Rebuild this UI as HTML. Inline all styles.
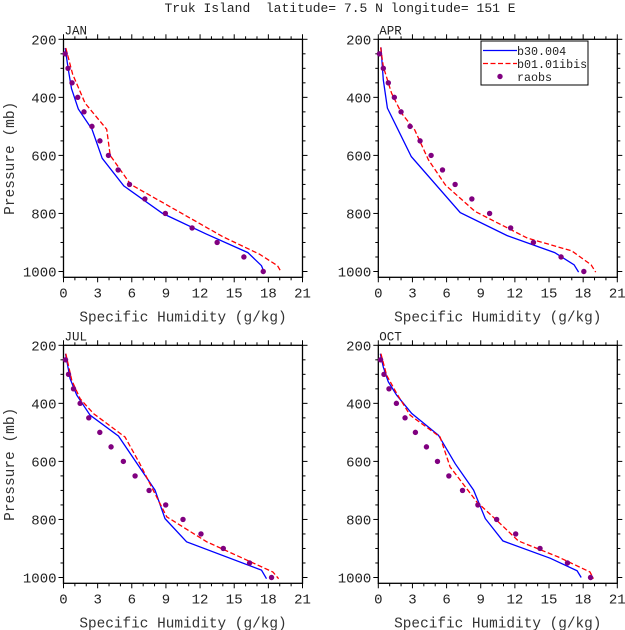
<!DOCTYPE html>
<html><head><meta charset="utf-8">
<style>
html,body{margin:0;padding:0;background:#fff;}
svg{display:block;font-family:"Liberation Mono",monospace;}
</style></head>
<body>
<svg id="s" width="625" height="630" viewBox="0 0 625 630" xmlns="http://www.w3.org/2000/svg">
<rect width="625" height="630" fill="#fff"/>
<text x="340" y="12" font-size="13" text-anchor="middle" fill="#222" style="white-space:pre">Truk Island  latitude= 7.5 N longitude= 151 E</text>
</svg>
<script>
const S=document.getElementById('s');
const NS='http://www.w3.org/2000/svg';
function el(t,a,txt){const e=document.createElementNS(NS,t);for(const k in a)e.setAttribute(k,a[k]);if(txt!==undefined)e.textContent=txt;S.appendChild(e);return e;}
const W=239,H=238;
const panels=[
{L:63.5,T:39.3,name:'JAN',
 b:[[0.15,230],[0.4,300],[0.7,370],[1.3,440],[2.5,510],[3.4,610],[5.3,705],[8.7,800],[12.5,870],[16.2,935],[17.4,980],[17.6,1000]],
 r:[[0.2,230],[0.8,320],[1.9,420],[3.8,510],[4.1,600],[5.9,700],[9.5,780],[14,880],[17.2,940],[18.8,980],[19.1,1000]],
 o:[0.15,0.4,0.75,1.25,1.8,2.5,3.2,3.95,4.8,5.8,7.15,8.95,11.3,13.5,15.85,17.55]},
{L:378.3,T:39.3,name:'APR',legend:true,
 b:[[0.24,228],[0.44,340],[0.8,437],[2.9,604],[7.2,797],[11.3,876],[15.5,935],[17.2,977],[17.6,1002]],
 r:[[0.2,228],[0.44,294],[1.17,386],[2.05,455],[3.2,512],[4.4,615],[5.9,702],[8.5,793],[13.1,885],[17.0,929],[18.7,977],[19.1,1002]],
 o:[0.1,0.44,0.88,1.41,2.0,2.79,3.67,4.64,5.64,6.75,8.22,9.78,11.63,13.63,16.06,18.06]},
{L:63.5,T:345.3,name:'JUL',
 b:[[0.18,229],[0.58,315],[1.17,372],[2.34,441],[4.83,513],[8.04,699],[8.92,797],[10.82,877],[17.4,975],[17.84,1004]],
 r:[[0.2,229],[0.73,321],[1.46,384],[2.63,435],[5.4,516],[6.7,608],[9.07,791],[12.58,877],[18.4,981],[18.9,1004]],
 o:[0.18,0.44,0.88,1.46,2.22,3.19,4.18,5.26,6.29,7.52,8.98,10.5,12.08,14.04,16.35,18.28]},
{L:378.3,T:345.3,name:'OCT',
 b:[[0.18,229],[0.44,275],[0.88,326],[1.62,372],[2.94,435],[5.29,510],[6.76,608],[8.37,699],[9.4,797],[10.95,874],[15.12,934],[17.47,977],[17.83,1000]],
 r:[[0.23,229],[0.73,303],[1.62,366],[2.79,441],[5.43,516],[6.31,619],[8.66,740],[10.4,803],[12.3,874],[15.8,929],[18.6,981],[18.9,1004]],
 o:[0.2,0.5,0.94,1.59,2.35,3.26,4.23,5.2,6.2,7.4,8.75,10.4,12.07,14.21,16.62,18.65]}
];
panels.forEach(P=>{
 const X=q=>P.L+q*W/21, Y=p=>P.T+(p-200)*H/820;
 const B=P.T+H,R=P.L+W;
 for(let q=0;q<=21;q++){const maj=q%3==0,l=maj?5:3,x=X(q);
  el('line',{x1:x,y1:B,x2:x,y2:B+l,stroke:'#000','stroke-width':1});
  el('line',{x1:x,y1:P.T,x2:x,y2:P.T-l,stroke:'#000','stroke-width':1});
  if(maj) el('text',{x:x,y:B+20,'font-size':14,'text-anchor':'middle',fill:'#222'},q);}
 for(let p=200;p<=1000;p+=50){const maj=p%200==0,l=maj?5:3,y=Y(p);
  el('line',{x1:P.L,y1:y,x2:P.L-l,y2:y,stroke:'#000','stroke-width':1});
  el('line',{x1:R,y1:y,x2:R+l,y2:y,stroke:'#000','stroke-width':1});
  if(maj) el('text',{x:P.L-7,y:y+5,'font-size':14,'text-anchor':'end',fill:'#222'},p);}
 el('rect',{x:P.L,y:P.T,width:W,height:H,fill:'none',stroke:'#000','stroke-width':1.3});
 el('text',{x:P.L+1,y:P.T-5,'font-size':12.5,fill:'#222'},P.name);
 el('text',{x:P.L+W/2,y:B+44,'font-size':14.4,'text-anchor':'middle',fill:'#333'},'Specific Humidity (g/kg)');
 if(P.L<100) el('text',{x:0,y:0,'font-size':14.5,'text-anchor':'middle',fill:'#333',transform:`translate(14,${P.T+H/2}) rotate(-90)`},'Pressure (mb)');
 const pts=a=>a.map(v=>X(v[0]).toFixed(1)+','+Y(v[1]).toFixed(1)).join(' ');
 el('polyline',{points:pts(P.b),fill:'none',stroke:'#0000ff','stroke-width':1.3});
 el('polyline',{points:pts(P.r),fill:'none',stroke:'#ff0000','stroke-width':1.3,'stroke-dasharray':'5,2.5'});
 P.o.forEach((q,i)=>el('circle',{cx:X(q),cy:Y(250+50*i),r:2.7,fill:'#800080'}));
 if(P.legend){
  el('rect',{x:481,y:41,width:107,height:44,fill:'#fff',stroke:'#000','stroke-width':1});
  el('line',{x1:483,y1:50.5,x2:517,y2:50.5,stroke:'#0000ff','stroke-width':1.3});
  el('line',{x1:483,y1:63.5,x2:517,y2:63.5,stroke:'#ff0000','stroke-width':1.3,'stroke-dasharray':'5,2.5'});
  el('circle',{cx:500,cy:76.5,r:2.7,fill:'#800080'});
  el('text',{x:517,y:55,'font-size':11.7,fill:'#222'},'b30.004');
  el('text',{x:517,y:68,'font-size':11.7,fill:'#222'},'b01.01ibis');
  el('text',{x:517,y:81,'font-size':11.7,fill:'#222'},'raobs');
 }
});
</script>
</body></html>
